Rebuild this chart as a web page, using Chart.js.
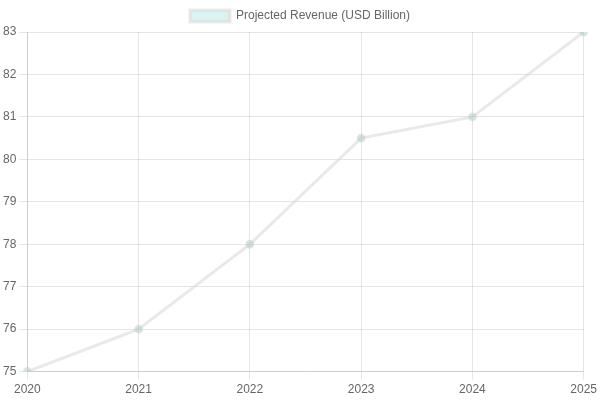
<!DOCTYPE html>
<html>
<head>
<meta charset="utf-8">
<script src="https://cdn.jsdelivr.net/npm/chart.js@4"></script>
<style>
  html, body { margin: 0; padding: 0; background: #fff; }
  #wrap { width: 600px; height: 400px; }
</style>
</head>
<body>
<div id="wrap"><canvas id="revChart"></canvas></div>
<script>
// chart data
const years = ["2020", "2021", "2022", "2023", "2024", "2025"];
const revenue = [75, 76, 78, 80.5, 81, 83];
const seriesLabel = "Projected Revenue (USD Billion)";

Chart.defaults.font.family = "'Liberation Sans', Arial, sans-serif";
Chart.defaults.font.size = 12;
Chart.defaults.color = "#666";

const ctx = document.getElementById("revChart").getContext("2d");
new Chart(ctx, {
  type: "line",
  data: {
    labels: years,
    datasets: [
      {
        label: seriesLabel,
        data: revenue,
        backgroundColor: "rgba(75,192,192,0.2)",
        borderColor: "rgba(215,215,215,0.55)",
        borderWidth: 3,
        pointRadius: 3,
        pointBackgroundColor: "rgba(75,192,192,0.2)",
        pointBorderColor: "rgba(200,205,205,0.5)",
        fill: false,
        tension: 0
      }
    ]
  },
  options: {
    responsive: true,
    maintainAspectRatio: false,
    animation: false,
    plugins: {
      legend: { position: "top" }
    },
    scales: {
      x: { offset: false },
      y: { min: 75, max: 83, ticks: { stepSize: 1 } }
    }
  }
});
</script>
</body>
</html>
